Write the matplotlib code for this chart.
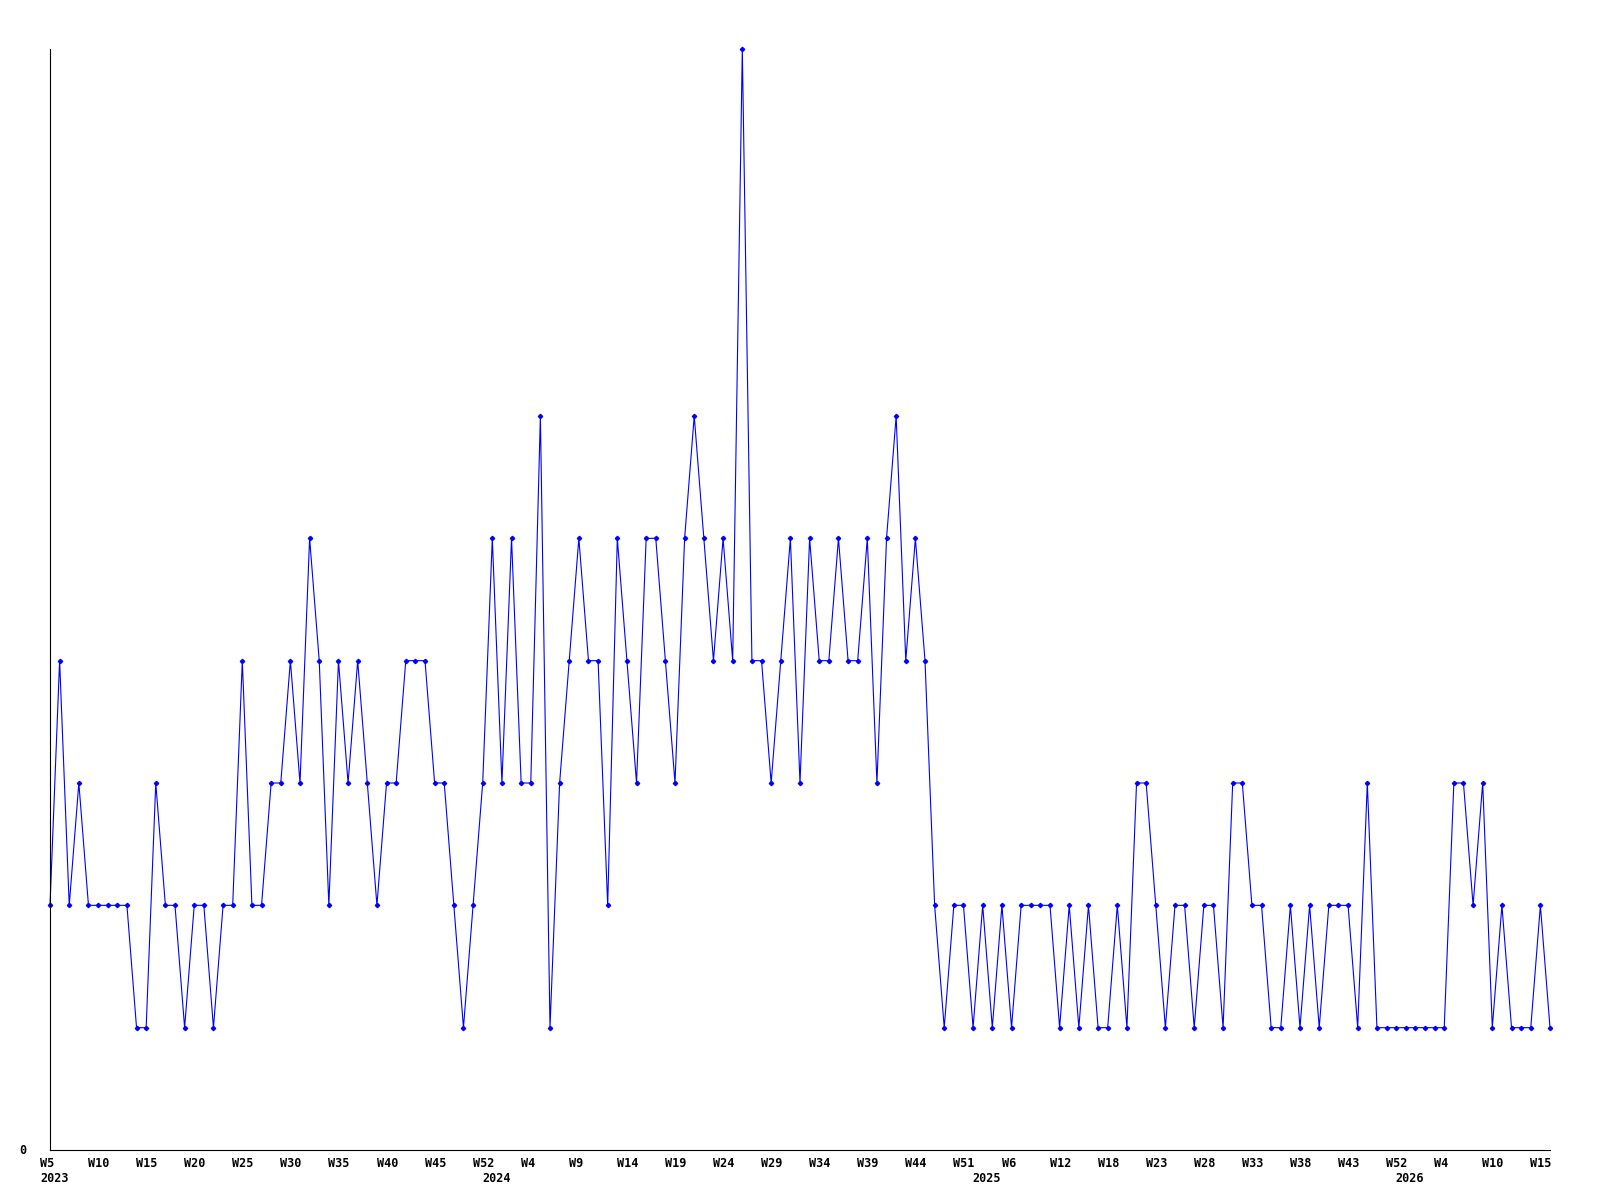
import matplotlib
matplotlib.use("Agg")
import matplotlib.pyplot as plt

# weekly counts, 2023 W5 .. 2026 W15
values = [2, 4, 2, 3, 2, 2, 2, 2, 2, 1, 1, 3, 2, 2, 1, 2, 2, 1, 2, 2, 4, 2, 2, 3, 3, 4, 3, 5,
          4, 2, 4, 3, 4, 3, 2, 3, 3, 4, 4, 4, 3, 3, 2, 1, 2, 3, 5, 3, 5, 3, 3, 6, 1, 3, 4, 5,
          4, 4, 2, 5, 4, 3, 5, 5, 4, 3, 5, 6, 5, 4, 5, 4, 9, 4, 4, 3, 4, 5, 3, 5, 4, 4, 5, 4,
          4, 5, 3, 5, 6, 4, 5, 4, 2, 1, 2, 2, 1, 2, 1, 2, 1, 2, 2, 2, 2, 1, 2, 1, 2, 1, 1, 2,
          1, 3, 3, 2, 1, 2, 2, 1, 2, 2, 1, 3, 3, 2, 2, 1, 1, 2, 1, 2, 1, 2, 2, 2, 1, 3, 1, 1,
          1, 1, 1, 1, 1, 1, 3, 3, 2, 3, 1, 2, 1, 1, 1, 2, 1]

week_labels = ["W5", "W10", "W15", "W20", "W25", "W30", "W35", "W40", "W45", "W52",
               "W4", "W9", "W14", "W19", "W24", "W29", "W34", "W39", "W44", "W51",
               "W6", "W12", "W18", "W23", "W28", "W33", "W38", "W43", "W52",
               "W4", "W10", "W15"]
tick_step = 5

years = ["2023", "2024", "2025", "2026"]
year_idx = [0, 46, 97, 141]

font = dict(family="DejaVu Sans Mono", weight="bold", size=8.5, color="black")

fig = plt.figure(figsize=(16, 12), dpi=100)
ax = fig.add_axes([50 / 1600, 50 / 1200, 1500 / 1600, 1101 / 1200])

x = list(range(len(values)))
ax.plot(x, values, color="#0000ff", lw=0.8, marker="D", markersize=2.2,
        clip_on=False)

ax.set_xlim(0, len(values) - 1)
ax.set_ylim(0, max(values))

for s in ["top", "right"]:
    ax.spines[s].set_visible(False)
for s in ["left", "bottom"]:
    ax.spines[s].set_linewidth(0.8)
    ax.spines[s].set_color("black")

ax.set_xticks([])
ax.set_yticks([])

# week labels under the axis
for i, lab in enumerate(week_labels):
    ax.annotate(lab, xy=(i * tick_step, 0), xycoords=("data", "axes fraction"),
                xytext=(-10, -7), textcoords="offset pixels",
                ha="left", va="top", annotation_clip=False, **font)

# year labels
for idx, yr in zip(year_idx, years):
    ax.annotate(yr, xy=(idx, 0), xycoords=("data", "axes fraction"),
                xytext=(-10, -22), textcoords="offset pixels",
                ha="left", va="top", annotation_clip=False, **font)

# zero on the y axis
ax.annotate("0", xy=(0, 0), xycoords="axes fraction", xytext=(-24, 0),
            textcoords="offset pixels", ha="right", va="center",
            annotation_clip=False, **font)

fig.savefig("out.png", dpi=100)
